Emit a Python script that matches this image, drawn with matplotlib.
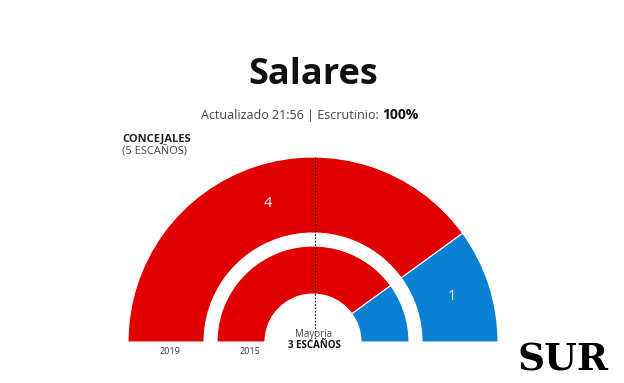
import math
import matplotlib.pyplot as plt
from matplotlib.patches import Wedge

# escaños por partido
partidos = ['PSOE', 'PP']
colores = ['#e10000', '#0a80d2']
escanos_2019 = [4, 1]
escanos_2015 = [4, 1]
total = 5
mayoria = 3

W, H = 624, 383
fig = plt.figure(figsize=(W / 100, H / 100), dpi=100)
ax = fig.add_axes([0, 0, 1, 1])
ax.set_xlim(0, W)
ax.set_ylim(0, H)
ax.axis('off')

cx, cy = 313, H - 342


def anillo(valores, r_ext, ancho, r_etiqueta=None):
    inicio = 180.0
    for v, c in zip(valores, colores):
        fin = inicio - 180.0 * v / total
        ax.add_patch(Wedge((cx, cy), r_ext, fin, inicio, width=ancho,
                           facecolor=c, edgecolor='white', linewidth=0.8))
        if r_etiqueta:
            a = math.radians((inicio + fin) / 2)
            ax.text(cx + r_etiqueta * math.cos(a), cy + r_etiqueta * math.sin(a), str(v),
                    color='white', fontsize=10.5, ha='center', va='center', family='Open Sans')
        inicio = fin


anillo(escanos_2019, 185, 76, r_etiqueta=146)
anillo(escanos_2015, 96, 48)

# linea de mayoria
ax.plot([cx + 2, cx + 2], [cy, cy + 185], color='black', linestyle=(0, (1.5, 1.5)), linewidth=0.8)

ax.text(313, H - 75, 'Salares', fontsize=26, fontweight='bold', ha='center', va='center',
        color='#111111', family='Open Sans')
ax.text(382, H - 115, 'Actualizado 21:56 | Escrutinio: ', fontsize=9, ha='right', va='center',
        color='#444444', family='Open Sans')
ax.text(382, H - 115, '100%', fontsize=10, fontweight='bold', ha='left', va='center',
        color='#111111', family='Open Sans')

ax.text(122, H - 139, 'CONCEJALES', fontsize=8, fontweight='bold', ha='left', va='center',
        color='#222222', family='Open Sans')
ax.text(122, H - 152, '(5 ESCAÑOS)', fontsize=8, ha='left', va='center',
        color='#444444', family='Open Sans')

ax.text(170, H - 352, '2019', fontsize=6.5, ha='center', va='center', color='#333333', family='Open Sans')
ax.text(250, H - 352, '2015', fontsize=6.5, ha='center', va='center', color='#333333', family='Open Sans')

ax.text(314, H - 334, 'Mayoría', fontsize=7, ha='center', va='center', color='#444444', family='Open Sans')
ax.text(314, H - 345, '%d ESCAÑOS' % mayoria, fontsize=7, fontweight='bold', ha='center', va='center',
        color='#111111', family='Open Sans')

ax.text(563, H - 360, 'SUR', fontsize=27, fontweight='bold', ha='center', va='center',
        color='black', family='DejaVu Serif')

fig.savefig('out.png', dpi=100, facecolor='white')
